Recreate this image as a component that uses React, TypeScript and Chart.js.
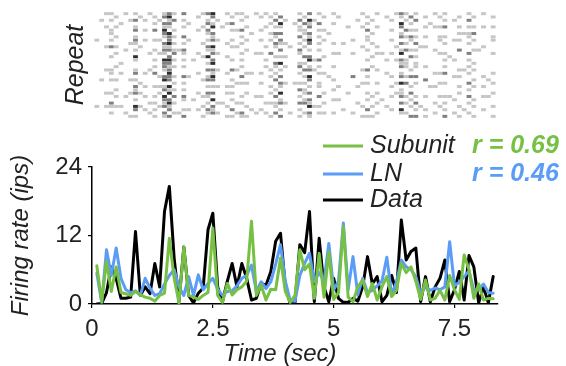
import React, { useEffect, useRef } from "react";
import { Chart, registerables } from "chart.js";
Chart.register(...registerables);

// ---- data ----
const TIMES = [
  0.1, 0.2, 0.3, 0.4, 0.5, 0.6, 0.7, 0.8, 0.9, 1.0,
  1.1, 1.2, 1.3, 1.4, 1.5, 1.6, 1.7, 1.8, 1.9, 2.0,
  2.1, 2.2, 2.3, 2.4, 2.5, 2.6, 2.7, 2.8, 2.9, 3.0,
  3.1, 3.2, 3.3, 3.4, 3.5, 3.6, 3.7, 3.8, 3.9, 4.0,
  4.1, 4.2, 4.3, 4.4, 4.5, 4.6, 4.7, 4.8, 4.9, 5.0,
  5.1, 5.2, 5.3, 5.4, 5.5, 5.6, 5.7, 5.8, 5.9, 6.0,
  6.1, 6.2, 6.3, 6.4, 6.5, 6.6, 6.7, 6.8, 6.9, 7.0,
  7.1, 7.2, 7.3, 7.4, 7.5, 7.6, 7.7, 7.8, 7.9, 8.0,
  8.1, 8.2, 8.3,
];

const DATA_RATE = [
  0, 0.1, 2, 6.5, 4.5, 1, 1, 1.2, 12.7, 1.5,
  3, 1.8, 7.1, 3, 16.2, 20.6, 8, 0.4, 10, 1.5,
  0.2, 1.9, 2.8, 13, 15.9, 3, 0.4, 4, 7.1, 3,
  7.1, 4.5, 0.7, 1, 3.6, 3.3, 5.7, 11, 12.4, 3,
  0.1, 0.2, 10.4, 9, 16.2, 0.4, 11.5, 3, 0.4, 4.5,
  1, 0.3, 0.3, 1, 0.5, 3, 8.3, 3.5, 4.8, 0.4,
  1.5, 5, 2, 14.7, 7.7, 9.2, 9.8, 0.4, 4.8, 0.4,
  3, 4.5, 7.7, 0.4, 2.5, 5.7, 0.7, 8.5, 6.5, 0.2,
  3, 0.2, 4.8,
];

const SUBUNIT_RATE = [
  6.7, 0.4, 7.5, 2.2, 6.5, 2, 1.8, 1.5, 2.2, 1.6,
  1.2, 1.0, 0.5, 1.5, 1.9, 11.5, 4.5, 0.2, 10, 1.5,
  1.2, 0.8, 1.5, 2, 13.3, 1.5, 0.3, 3.6, 1.6, 2.5,
  3, 4, 14.5, 1.5, 3.3, 0.7, 2.6, 2.5, 8, 2.2,
  0.3, 1.5, 9.5, 6, 7, 1, 8.9, 1.2, 9.2, 0.8,
  2, 13.6, 1.2, 0.4, 3, 4.2, 1.3, 3.6, 0.7, 3,
  4.8, 1.3, 2.4, 7.1, 5.5, 6.5, 4, 0.8, 4.2, 0.7,
  1.0, 2.4, 0.7, 5, 2.5, 0.8, 8.6, 6, 1, 3.5,
  0.7, 1, 0.9,
];

const LN_RATE = [
  5.4, 0.3, 9.5, 5, 9.8, 4.5, 2.5, 2, 2.3, 1.5,
  4.5, 2.8, 1.5, 1.8, 3.5, 5, 6, 3, 1.5, 4.8,
  1.5, 5.1, 2.5, 3.6, 4.5, 2.6, 1.5, 2.2, 2.3, 3.2,
  4.5, 5, 6.8, 2.2, 3.9, 2.7, 3.9, 7, 10.4, 4,
  0.6, 0.5, 5, 7.1, 8.9, 3.9, 5.5, 4, 10.6, 2.5,
  4, 14.2, 2.5, 8.3, 1.6, 4.5, 2, 2.4, 3.2, 4,
  8.2, 1.6, 3.9, 7.7, 6.5, 6, 4.8, 1.8, 3, 2.4,
  2.8, 2.5, 3, 10.9, 3.2, 3.8, 4.8, 5.8, 2.4, 2.6,
  3.5, 2, 1.9,
];

const X_TICKS = [0, 2.5, 5, 7.5];
const Y_TICKS = [0, 12, 24];
const LEGEND_LABELS = ["Subunit", "LN", "Data"];
const R_LABELS = ["r = 0.69", "r = 0.46"];
const REPEAT_COUNT = 32;

// Spike raster: one string per time bin (same bins as TIMES), one char per repeat.
// '.' none, '1' light, '2' mid, '3' dark
const RASTER_COLS = [
  "........ 1....... ........ ....1...",
  "..1..... ........ ....1... ........",
  "1...1... ..1..... .1...... 1...1...",
  "1.1..11. 1.2..1.. .11.1... 1..21.1.",
  ".1..1..1 ..1.1... 1...1..1 .1..1...",
  "...1.... .......1 ..1..... ....1...",
  "1....... ...1.... ........ .1....1.",
  "..1..... .1...... ....1... 1......1",
  "1.2.12.1 21.1.31. .12.1.21 2.1.32.1",
  ".1...... ..1..... .....1.. 1...1...",
  "..1..1.. 1....... ..1...1. .1...1..",
  "1....... ....1... .1...... ...1..1.",
  ".1.1.2.. 1..1..1. 1.2...1. .1.1.1.1",
  "..1..... 1...1... ...1..1. 1...1...",
  "12.21321 .2121.32 21.23.12 .3212.21",
  "23121.32 2312.232 12322.31 3.2312.2",
  "1.2..1.1 .1.12.1. 1..1.1.1 .2.1..1.",
  "........ ...1.... ........ ......1.",
  "2.1.1..2 .1.21.1. 1..2.1.1 .21..1.2",
  "...1.... 1....... ...1.... .....1..",
  "........ ......1. ........ ..1.....",
  ".1...1.. ....1... ..1..... 1....1..",
  "1...1... .1...1.. ....1... .1..1..1",
  "2.12.21. 1.21.3.1 .2.12.1. 21.1.21.",
  "32.13.21 2.312.23 .2132.1. 2.3.212.",
  "..1..... 1...1... .1....1. ...1..1.",
  "....1... ........ ........ ...1....",
  "1..1.... .1...1.. ..1...1. 1...1..1",
  ".1.2.1.. 1.1...1. .2..1.1. 1.1..2.1",
  "1....1.. ..1..... .1...1.. ...1..1.",
  "1.1..2.1 .1..1.1. 1..2.1.. .1.1..21",
  ".1..1... 1..1.... ..1..1.. 1...1..1",
  "......1. ........ ..1..... .....1..",
  "1....... ....1... ........ .1....1.",
  ".1...1.. 1...1... ..1..1.. .1...1..",
  "1...1... ..1...1. 1....... ...1..1.",
  ".1.1..1. 1...2... .1.1..1. 1..1...1",
  "1.2.1.21 .21..1.2 1.1.2..1 .2.11.2.",
  ".2.31.2. 21.2.1.3 .1.2.21. 3.12.1.2",
  "..1..... .1...1.. 1....1.. ...1....",
  "........ ..1..... ........ ......1.",
  "...1.... ........ .....1.. ........",
  "1.2.11.2 .1.21..1 2.1..1.2 .1.2.1.1",
  ".1.2.11. 1.1..2.1 .2.1.1.1 1.12..1.",
  "2.312.21 32.1.23. 12.32.1. 2.213.21",
  "..1..... ......1. .1...... ....1...",
  "1..2.1.1 .1.1..2. 1.1..11. .2..1.1.",
  ".1...1.. 1....1.. ..1..... 1..1..1.",
  "......1. ........ ...1.... ........",
  "1..1.... .1..1... 1...1..1 ..1...1.",
  ".1...... ....1... ......1. ..1.....",
  "........ .1...... ........ .....1..",
  "....1... ........ ........ 1.......",
  "........ 1...1... ...2.... ......1.",
  "..1..... ........ ......1. ...1....",
  "1...1... ..1..... .1...1.. ....1..1",
  ".1.1.2.1 1..1..1. .2.1.1.. 1.1..2.1",
  "..1...1. .1...1.. 1....... .1..1..1",
  "1...1... ..1.1... .1...1.. 1..1..1.",
  "........ ....1... ........ ..1.....",
  ".1...... ......1. ..1..... ....1...",
  "..1..1.. 1...1... ...1..1. .1...1..",
  "1....... ..1...1. .....1.. 1.......",
  "21.32.12 .2.13.21 2.12.3.1 12.2.31.",
  "1.1..2.1 .1.2..11 1..1.2.. .1.1..1.",
  ".2.1.1.2 1..1.2.. .1.2..1. 2.1.1..2",
  "1.2..1.1 .2.1.1.1 1..2.1.. .1.2.1.2",
  "........ ..1..... ........ ....1...",
  ".1..1..1 ..1..... 1...2... .1...1.1",
  "...1.... ........ ......1. ........",
  "1...1... ...1.... ..1...1. ...1..1.",
  ".1..1..1 1...1... ..1..1.. .1..1...",
  "1.1.2..1 .1..1.1. 1.2..1.. .1.1.1.2",
  "........ .....1.. ........ .1......",
  "..1..... 1.....1. ...1.... ..1...1.",
  ".1..1.1. 1..2.... .1.1..1. 1...1..1",
  "......1. ........ .1...... .....1..",
  "1.2.1.11 .1..2.1. 1.1..2.1 .2.1..1.",
  ".1..1.2. 1..1...1 .1..1.1. ..1.1..1",
  "........ ...1.... ........ ........",
  "1...1... ..1..... ...1..1. .1...1..",
  "........ ........ ....1... .1......",
  ".1..1..1 1...1... ..1..1.. 1...1..1",
];

// ---- styling ----
const FONT = "'Liberation Sans', Arial, Helvetica, sans-serif";
const GREEN = "#76c043";
const BLUE = "#5b9cf7";
const BLACK = "#000000";
const TEXT = "#222222";
const SERIES_COLORS = [GREEN, BLUE, BLACK];
const SHADES: Record<string, string> = { "1": "#c6c6c6", "2": "#808080", "3": "#2e2e2e" };

const legendPlugin = {
  id: "customLegend",
  afterDraw(chart: any) {
    const ctx = chart.ctx;
    const ys = [146, 174, 200];
    ctx.save();
    ctx.textBaseline = "middle";
    ctx.textAlign = "left";
    LEGEND_LABELS.forEach((label, k) => {
      ctx.strokeStyle = SERIES_COLORS[k];
      ctx.lineWidth = 3;
      ctx.beginPath();
      ctx.moveTo(323, ys[k]);
      ctx.lineTo(363, ys[k]);
      ctx.stroke();
      ctx.fillStyle = TEXT;
      ctx.font = `italic 25px ${FONT}`;
      ctx.fillText(label, 370, ys[k]);
    });
    R_LABELS.forEach((label, k) => {
      ctx.fillStyle = SERIES_COLORS[k];
      ctx.font = `italic bold 25px ${FONT}`;
      ctx.fillText(label, 472, ys[k]);
    });
    // x-axis title
    ctx.fillStyle = TEXT;
    ctx.font = `italic 24px ${FONT}`;
    ctx.textAlign = "center";
    ctx.textBaseline = "alphabetic";
    ctx.fillText("Time (sec)", 280, 361);
    ctx.restore();
  },
};

const rasterPlugin = {
  id: "raster",
  beforeDatasetsDraw(chart: any) {
    const ctx = chart.ctx;
    const xs = chart.scales.x;
    const ys = chart.scales.y;
    ctx.save();
    RASTER_COLS.forEach((col, i) => {
      const t = TIMES[i];
      const cells = col.replace(/\s/g, "");
      const x0 = xs.getPixelForValue(t - 0.05);
      const x1 = xs.getPixelForValue(t + 0.05);
      for (let r = 0; r < cells.length; r++) {
        const c = SHADES[cells[r]];
        if (!c) continue;
        const y0 = ys.getPixelForValue(r + 0.05);
        const y1 = ys.getPixelForValue(r + 0.95);
        ctx.fillStyle = c;
        ctx.fillRect(x0, Math.min(y0, y1), x1 - x0, Math.abs(y1 - y0));
      }
    });
    ctx.restore();
  },
};

export default function App() {
  const lineRef = useRef<HTMLCanvasElement>(null);
  const rasterRef = useRef<HTMLCanvasElement>(null);

  useEffect(() => {
    const mk = (vals: number[]) => TIMES.map((t, i) => ({ x: t, y: vals[i] }));
    const tickFont = { size: 24, family: FONT };
    const lineStyle = { borderWidth: 3, pointRadius: 0, tension: 0, borderJoinStyle: "round", borderCapStyle: "round" };
    const lineChart = new Chart(lineRef.current as HTMLCanvasElement, {
      type: "line",
      data: {
        datasets: [
          { label: "Subunit", data: mk(SUBUNIT_RATE), borderColor: GREEN, ...lineStyle },
          { label: "LN", data: mk(LN_RATE), borderColor: BLUE, ...lineStyle },
          { label: "Data", data: mk(DATA_RATE), borderColor: BLACK, ...lineStyle },
        ],
      },
      options: {
        animation: false,
        responsive: false,
        devicePixelRatio: 1,
        layout: { padding: { left: 3, right: 68, top: 167, bottom: 0 } },
        scales: {
          x: {
            type: "linear",
            min: 0,
            max: 8.4,
            afterBuildTicks: (s: any) => {
              s.ticks = X_TICKS.map((v) => ({ value: v }));
            },
            afterFit: (s: any) => {
              s.height = 62;
            },
            grid: { display: true, drawOnChartArea: false, tickLength: 4, color: "#000", lineWidth: 1.2 },
            border: { display: true, color: "#000", width: 1.5 },
            ticks: { font: tickFont, color: TEXT, padding: 7, maxRotation: 0, autoSkip: false, callback: (v: any) => String(v) },
          },
          y: {
            type: "linear",
            min: 0,
            max: 24,
            afterBuildTicks: (s: any) => {
              s.ticks = Y_TICKS.map((v) => ({ value: v }));
            },
            afterFit: (s: any) => {
              s.width = 89;
            },
            grid: { display: true, drawOnChartArea: false, tickLength: 4, color: "#000", lineWidth: 1.2 },
            border: { display: true, color: "#000", width: 1.5 },
            ticks: { font: tickFont, color: TEXT, padding: 6, callback: (v: any) => String(v) },
            title: {
              display: true,
              text: "Firing rate (ips)",
              color: TEXT,
              font: { size: 24, style: "italic", family: FONT },
              padding: { top: 4, bottom: 4 },
            },
          },
        },
        plugins: { legend: { display: false }, tooltip: { enabled: false } },
      },
      plugins: [legendPlugin],
    } as any);

    const rasterChart = new Chart(rasterRef.current as HTMLCanvasElement, {
      type: "scatter",
      data: { datasets: [] },
      options: {
        animation: false,
        responsive: false,
        devicePixelRatio: 1,
        layout: { padding: { left: 57, right: 68, top: 12, bottom: 7 } },
        scales: {
          x: { type: "linear", min: 0, max: 8.4, display: false },
          y: {
            type: "linear",
            min: 0,
            max: REPEAT_COUNT,
            reverse: true,
            afterFit: (s: any) => {
              s.width = 35;
            },
            grid: { display: false },
            border: { display: false },
            ticks: { display: false },
            title: {
              display: true,
              text: "Repeat",
              color: TEXT,
              font: { size: 25, style: "italic", family: FONT },
              padding: { top: 4, bottom: 4 },
            },
          },
        },
        plugins: { legend: { display: false }, tooltip: { enabled: false } },
      },
      plugins: [rasterPlugin],
    } as any);

    return () => {
      lineChart.destroy();
      rasterChart.destroy();
    };
  }, []);

  return (
    <div style={{ position: "fixed", left: 0, top: 0, width: 566, height: 366, background: "#fff" }}>
      <canvas ref={lineRef} width={566} height={366} style={{ position: "absolute", left: 0, top: 0, display: "block" }} />
      <canvas ref={rasterRef} width={566} height={125} style={{ position: "absolute", left: 0, top: 0, display: "block" }} />
    </div>
  );
}
